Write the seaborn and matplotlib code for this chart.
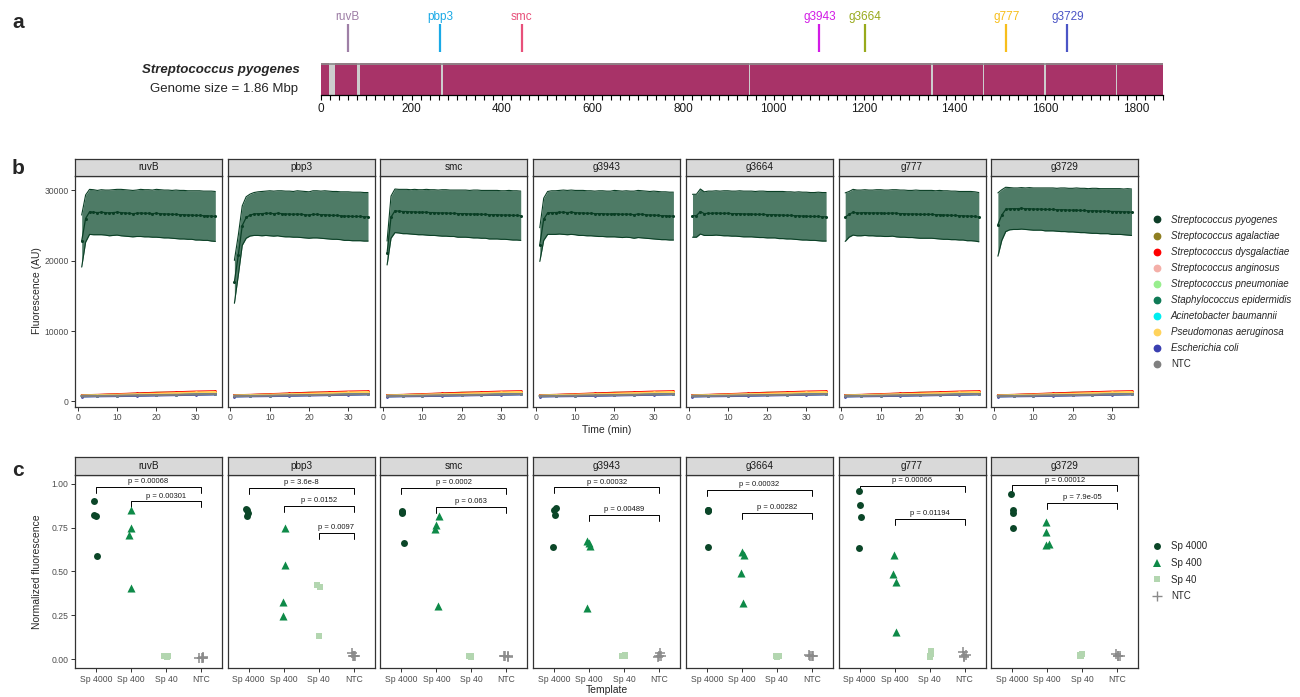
import numpy as np
import pandas as pd
import matplotlib
matplotlib.use("Agg")
import matplotlib.pyplot as plt
from matplotlib.lines import Line2D
import seaborn as sns

# ---------------------------------------------------------------- data
GENES = ["ruvB", "pbp3", "smc", "g3943", "g3664", "g777", "g3729"]
GENE_POS_KB = [59, 263, 443, 1101, 1201, 1514, 1649]
GENE_COLORS = ["#9E7FA6", "#19A9E6", "#E8507A", "#D21BE6", "#98AA1C", "#F7BE1B", "#4B55C6"]
GENOME_KB = 1860
GAP_START_KB = [18, 80, 266, 946, 1348, 1462, 1597, 1757]
GAP_WIDTH_KB = [13, 7, 3, 2, 5, 2, 5, 2]

TIME = list(range(1, 36))

# S. pyogenes fluorescence: mean and standard deviation per target gene
PYO_MEAN = [
    [22800, 26000, 26950, 26900, 26850, 26900, 26850, 26800, 26850, 26900, 26850, 26800, 26750, 26700, 26750, 26800, 26750, 26750,
     26700, 26750, 26700, 26650, 26650, 26600, 26600, 26550, 26550, 26500, 26500, 26450, 26450, 26400, 26400, 26350, 26300],
    [17000, 20800, 25000, 26150, 26500, 26650, 26700, 26700, 26750, 26750, 26700, 26750, 26700, 26650, 26650, 26600, 26650, 26600,
     26550, 26500, 26600, 26600, 26550, 26550, 26500, 26450, 26450, 26400, 26350, 26350, 26300, 26300, 26300, 26250, 26250],
    [21100, 26200, 27100, 27050, 27000, 27000, 26950, 26950, 26900, 26900, 26900, 26850, 26850, 26800, 26800, 26800, 26750, 26750,
     26700, 26700, 26700, 26650, 26650, 26650, 26600, 26600, 26550, 26550, 26550, 26500, 26500, 26500, 26450, 26450, 26400],
    [22300, 25900, 26800, 26850, 26850, 26900, 26900, 26850, 26900, 26850, 26800, 26800, 26750, 26750, 26700, 26700, 26700, 26650,
     26650, 26700, 26650, 26600, 26650, 26600, 26550, 26650, 26600, 26550, 26500, 26500, 26450, 26400, 26400, 26350, 26350],
    [26400, 26400, 27000, 26700, 26750, 26750, 26800, 26750, 26750, 26750, 26700, 26700, 26700, 26650, 26650, 26650, 26600, 26600,
     26600, 26550, 26550, 26550, 26500, 26500, 26450, 26450, 26400, 26400, 26350, 26350, 26300, 26300, 26300, 26250, 26250],
    [26200, 26600, 26900, 26800, 26800, 26850, 26800, 26800, 26800, 26800, 26750, 26750, 26800, 26750, 26700, 26700, 26650, 26650,
     26650, 26600, 26600, 26600, 26600, 26550, 26550, 26500, 26500, 26450, 26450, 26400, 26400, 26350, 26350, 26300, 26200],
    [25150, 26500, 27300, 27400, 27400, 27400, 27450, 27400, 27400, 27350, 27350, 27350, 27300, 27300, 27300, 27250, 27250, 27250,
     27200, 27200, 27200, 27150, 27150, 27100, 27100, 27100, 27050, 27050, 27050, 27000, 27000, 27000, 26950, 26950, 26900],
]
PYO_SD = [
    [3700, 3350, 3200, 3200, 3150, 3200, 3200, 3250, 3250, 3250, 3300, 3300, 3300, 3300, 3300, 3350, 3350, 3350,
     3350, 3400, 3400, 3400, 3400, 3400, 3450, 3450, 3450, 3450, 3450, 3500, 3500, 3500, 3500, 3550, 3550],
    [3050, 2850, 2800, 2950, 2980, 3050, 3100, 3150, 3150, 3200, 3200, 3200, 3250, 3250, 3250, 3250, 3300, 3300,
     3300, 3300, 3350, 3350, 3350, 3400, 3400, 3400, 3400, 3400, 3450, 3450, 3450, 3450, 3450, 3450, 3450],
    [1700, 3000, 3100, 3100, 3150, 3150, 3150, 3200, 3200, 3200, 3250, 3250, 3250, 3250, 3300, 3300, 3300, 3300,
     3350, 3350, 3350, 3350, 3400, 3400, 3400, 3400, 3450, 3450, 3450, 3450, 3450, 3500, 3500, 3500, 3500],
    [2400, 3000, 3050, 3100, 3100, 3100, 3150, 3150, 3150, 3150, 3200, 3200, 3200, 3200, 3200, 3250, 3250, 3250,
     3250, 3300, 3300, 3300, 3300, 3300, 3350, 3350, 3350, 3350, 3350, 3400, 3400, 3400, 3400, 3400, 3400],
    [3050, 3050, 3200, 3100, 3150, 3150, 3150, 3150, 3200, 3200, 3200, 3200, 3250, 3250, 3250, 3250, 3250, 3300,
     3300, 3300, 3300, 3300, 3350, 3350, 3350, 3350, 3350, 3400, 3400, 3400, 3400, 3400, 3450, 3450, 3450],
    [3450, 3250, 3250, 3250, 3250, 3250, 3250, 3250, 3300, 3300, 3300, 3300, 3300, 3350, 3350, 3350, 3350, 3350,
     3400, 3400, 3400, 3400, 3400, 3400, 3450, 3450, 3450, 3450, 3450, 3450, 3450, 3500, 3500, 3500, 3500],
    [4500, 3600, 3150, 3000, 2950, 2950, 2950, 2950, 3000, 3000, 3000, 3000, 3050, 3050, 3050, 3050, 3100, 3100,
     3100, 3100, 3150, 3150, 3150, 3150, 3200, 3200, 3200, 3200, 3200, 3250, 3250, 3250, 3250, 3300, 3300],
]

# off-target templates and no-template control (AU)
LOW_TIME = [1, 5, 10, 15, 20, 25, 30, 35]
AGALACTIAE = [850, 900, 1000, 1100, 1250, 1250, 1300, 1350]
DYSGALACTIAE = [870, 930, 1030, 1130, 1200, 1300, 1400, 1450]
ANGINOSUS = [800, 850, 900, 1000, 1050, 1100, 1150, 1200]
PNEUMONIAE = [750, 800, 850, 900, 950, 1000, 1050, 1100]
EPIDERMIDIS = [800, 850, 900, 950, 1000, 1050, 1100, 1150]
BAUMANNII = [750, 780, 820, 870, 920, 960, 1000, 1050]
AERUGINOSA = [830, 880, 960, 1020, 1100, 1180, 1280, 1350]
ECOLI = [700, 730, 760, 800, 850, 900, 950, 1000]
NTC_FLUOR = [750, 780, 820, 860, 900, 950, 1000, 1050]

SPECIES = ["Streptococcus pyogenes", "Streptococcus agalactiae", "Streptococcus dysgalactiae",
           "Streptococcus anginosus", "Streptococcus pneumoniae", "Staphylococcus epidermidis",
           "Acinetobacter baumannii", "Pseudomonas aeruginosa", "Escherichia coli", "NTC"]
SPECIES_COLORS = ["#0D3D27", "#8F7F22", "#FF0000", "#F4AFA8", "#98EE8E", "#0F7A56",
                  "#00EEF0", "#FFD35C", "#3A3FB0", "#808080"]

# normalized fluorescence per template (4 replicates), one list per gene
TEMPLATES = ["Sp 4000", "Sp 400", "Sp 40", "NTC"]
SP4000 = [[0.90, 0.82, 0.815, 0.59], [0.855, 0.85, 0.835, 0.815], [0.845, 0.84, 0.835, 0.66],
          [0.86, 0.85, 0.82, 0.637], [0.85, 0.848, 0.845, 0.637], [0.956, 0.878, 0.808, 0.631],
          [0.943, 0.848, 0.835, 0.747]]
SP400 = [[0.85, 0.75, 0.705, 0.405], [0.75, 0.535, 0.325, 0.245], [0.815, 0.765, 0.74, 0.305],
         [0.675, 0.66, 0.645, 0.29], [0.612, 0.595, 0.49, 0.318], [0.591, 0.485, 0.44, 0.154],
         [0.78, 0.723, 0.658, 0.653]]
SP40 = [[0.015, 0.018, 0.012, 0.015], [0.425, 0.42, 0.41, 0.13], [0.02, 0.015, 0.02, 0.012],
        [0.02, 0.025, 0.015, 0.02], [0.015, 0.018, 0.012, 0.015], [0.044, 0.03, 0.015, 0.01],
        [0.03, 0.025, 0.02, 0.018]]
NTC_NORM = [[0.005, 0.012, 0.008, 0.004], [0.035, 0.02, 0.015, 0.018], [0.015, 0.016, 0.014, 0.015],
            [0.036, 0.015, 0.02, 0.012], [0.02, 0.018, 0.022, 0.016], [0.04, 0.025, 0.01, 0.015],
            [0.03, 0.02, 0.018, 0.015]]
TEMPLATE_COLORS = ["#0B4628", "#0E8A48", "#B3D6B0", "#8A8A8A"]
TEMPLATE_MARKERS = ["o", "^", "s", "+"]

# pairwise comparisons: (first template, second template, bracket height, label)
BRACKETS = [
    [(0, 3, 0.983, "p = 0.00068"), (1, 3, 0.900, "p = 0.00301")],
    [(0, 3, 0.978, "p = 3.6e-8"), (1, 3, 0.872, "p = 0.0152"), (2, 3, 0.720, "p = 0.0097")],
    [(0, 3, 0.977, "p = 0.0002"), (1, 3, 0.869, "p = 0.063")],
    [(0, 3, 0.980, "p = 0.00032"), (1, 3, 0.821, "p = 0.00489")],
    [(0, 3, 0.964, "p = 0.00032"), (1, 3, 0.835, "p = 0.00282")],
    [(0, 3, 0.987, "p = 0.00066"), (1, 3, 0.800, "p = 0.01194")],
    [(0, 3, 0.991, "p = 0.00012"), (1, 3, 0.892, "p = 7.9e-05")],
]

# ---------------------------------------------------------------- style
sns.set_theme(style="white")
plt.rcParams["font.family"] = ["Liberation Sans", "DejaVu Sans"]

W, H = 1300, 697
fig = plt.figure(figsize=(W / 100, H / 100), dpi=100)


def rect(l, t, r, b):
    return [l / W, 1 - b / H, (r - l) / W, (b - t) / H]


def fxy(x, y):
    return x / W, 1 - y / H


BORDER = "#333333"
TICKLAB = "#4D4D4D"
STRIP_FILL = "#D9D9D9"
BAR_COLOR = "#A83368"
GAP_COLOR = "#CDCDCD"
RIBBON = "#4E7B66"
PYO_DARK = "#0A3F25"

PANEL_L0, PANEL_W, PANEL_STEP = 75.0, 147.0, 152.7

# ---------------------------------------------------------------- panel a
axa = fig.add_axes(rect(321, 0, 1163, 95))
axa.set_xlim(0, GENOME_KB)
axa.set_ylim(95, 0)
axa.barh(79, GENOME_KB, height=32, left=0, color=BAR_COLOR, edgecolor="none")
axa.barh([79] * len(GAP_START_KB), GAP_WIDTH_KB, height=32, left=GAP_START_KB,
         color=GAP_COLOR, edgecolor="none")
axa.hlines(63.5, 0, GENOME_KB, color="#8C8C8C", lw=1.2)
axa.vlines(GENE_POS_KB, 24, 52, colors=GENE_COLORS, lw=1.6)
for pos, name, col in zip(GENE_POS_KB, GENES, GENE_COLORS):
    axa.text(pos, 17, name, color=col, ha="center", va="center", fontsize=8.5)
for side in ["top", "left", "right"]:
    axa.spines[side].set_visible(False)
axa.spines["bottom"].set_color("black")
axa.spines["bottom"].set_linewidth(0.9)
axa.set_facecolor("none")
axa.set_xticks(range(0, 1801, 200))
axa.set_xticks(range(0, GENOME_KB + 1, 20), minor=True)
axa.set_yticks([])
axa.tick_params(axis="x", which="both", direction="out", length=3.5, width=0.8,
                color="black", bottom=True)
axa.tick_params(axis="x", which="major", labelsize=8.5, labelcolor="#1A1A1A", pad=2)

fig.text(*fxy(300, 70), "Streptococcus pyogenes", ha="right", va="center",
         fontsize=9.5, fontweight="bold", style="italic")
fig.text(*fxy(298, 89), "Genome size = 1.86 Mbp", ha="right", va="center", fontsize=9.5)

for letter, y in [("a", 22), ("b", 168), ("c", 470)]:
    fig.text(*fxy(18, y), letter, ha="center", va="center", fontsize=15, fontweight="bold")


def style_panel(ax, first):
    for s in ax.spines.values():
        s.set_color(BORDER)
        s.set_linewidth(0.9)
        s.set_visible(True)
    ax.tick_params(axis="both", direction="out", length=3, width=0.7, color=BORDER,
                   labelsize=6.2, labelcolor=TICKLAB, pad=1.5, bottom=True, left=first)
    ax.set_xlabel("")
    ax.set_ylabel("")
    ax.set_facecolor("white")


def add_strip(left, top, bottom, text):
    sax = fig.add_axes(rect(left, top, left + PANEL_W, bottom))
    sax.set_facecolor(STRIP_FILL)
    sax.set_xticks([])
    sax.set_yticks([])
    for s in sax.spines.values():
        s.set_color(BORDER)
        s.set_linewidth(0.9)
    sax.text(0.5, 0.5, text, ha="center", va="center", fontsize=7.2, color="#1A1A1A",
             transform=sax.transAxes)


# ---------------------------------------------------------------- panel b
low_series = [AGALACTIAE, DYSGALACTIAE, ANGINOSUS, PNEUMONIAE, EPIDERMIDIS,
              BAUMANNII, AERUGINOSA, ECOLI, NTC_FLUOR]
low_df = pd.DataFrame({
    "time": LOW_TIME * len(low_series),
    "fluor": [v for s in low_series for v in s],
    "species": [sp for sp in SPECIES[1:] for _ in LOW_TIME],
})
low_palette = dict(zip(SPECIES[1:], SPECIES_COLORS[1:]))

for i, gene in enumerate(GENES):
    left = PANEL_L0 + i * PANEL_STEP
    ax = fig.add_axes(rect(left, 176, left + PANEL_W, 406.7))
    mean = np.array(PYO_MEAN[i])
    sd = np.array(PYO_SD[i])
    ax.fill_between(TIME, mean - sd, mean + sd, color=RIBBON, lw=0)
    ax.plot(TIME, mean + sd, color=PYO_DARK, lw=0.8)
    ax.plot(TIME, mean - sd, color=PYO_DARK, lw=0.8)
    sns.lineplot(data=low_df, x="time", y="fluor", hue="species", hue_order=SPECIES[1:],
                 palette=low_palette, marker="o", markersize=2, markeredgewidth=0,
                 linewidth=1.5, legend=False, errorbar=None, ax=ax)
    sns.lineplot(x=TIME, y=mean, color=PYO_DARK, marker="o", markersize=2.2,
                 markeredgewidth=0, linewidth=0.9, errorbar=None, ax=ax)
    ax.set_xlim(-0.7, 36.7)
    ax.set_ylim(-750, 32050)
    ax.set_xticks([0, 10, 20, 30])
    ax.set_yticks([0, 10000, 20000, 30000] if i == 0 else [])
    style_panel(ax, i == 0)
    add_strip(left, 158.7, 176, gene)

fig.text(*fxy(37, 291), "Fluorescence (AU)", rotation=90, ha="center", va="center", fontsize=7.5)
fig.text(*fxy(606.5, 430), "Time (min)", ha="center", va="center", fontsize=7.5)

handles_b = [Line2D([], [], marker="o", ls="", color=c, markersize=4.6) for c in SPECIES_COLORS]
leg_b = fig.legend(handles_b, SPECIES, loc="center left", bbox_to_anchor=fxy(1152, 292),
                   frameon=False, prop={"size": 7, "style": "italic"}, handlelength=1.0,
                   handletextpad=0.95, labelspacing=0.62, borderpad=0, borderaxespad=0)
leg_b.get_texts()[-1].set_style("normal")

# ---------------------------------------------------------------- panel c
np.random.seed(11)
template_vals = [SP4000, SP400, SP40, NTC_NORM]
template_sizes = [5.0, 5.8, 5.0, 7.0]
for i, gene in enumerate(GENES):
    left = PANEL_L0 + i * PANEL_STEP
    ax = fig.add_axes(rect(left, 475, left + PANEL_W, 668.3))
    for t, (tname, vals) in enumerate(zip(TEMPLATES, template_vals)):
        sub = pd.DataFrame({"template": [tname] * len(vals[i]), "value": vals[i]})
        kws = dict(linewidth=0)
        if TEMPLATE_MARKERS[t] == "+":
            kws = dict(linewidth=1.1, edgecolor=TEMPLATE_COLORS[t])
        sns.stripplot(data=sub, x="template", y="value", order=TEMPLATES,
                      color=TEMPLATE_COLORS[t], marker=TEMPLATE_MARKERS[t],
                      size=template_sizes[t], jitter=0.07, ax=ax, **kws)
    for a, b, yb, lab in BRACKETS[i]:
        ax.plot([a, a, b, b], [yb - 0.035, yb, yb, yb - 0.035], color="black", lw=0.7)
        ax.text((a + b) / 2, yb + 0.01, lab, ha="center", va="bottom", fontsize=5.5,
                color="#1A1A1A")
    ax.set_xlim(-0.6, 3.6)
    ax.set_ylim(-0.053, 1.05)
    ax.set_xticks(range(4))
    ax.set_xticklabels(TEMPLATES)
    if i == 0:
        ax.set_yticks([0, 0.25, 0.5, 0.75, 1.0])
        ax.set_yticklabels(["0.00", "0.25", "0.50", "0.75", "1.00"])
    else:
        ax.set_yticks([])
    style_panel(ax, i == 0)
    add_strip(left, 456.7, 475, gene)

fig.text(*fxy(37, 571.5), "Normalized fluorescence", rotation=90, ha="center", va="center",
         fontsize=7.5)
fig.text(*fxy(606.5, 690), "Template", ha="center", va="center", fontsize=7.5)

handles_c = [Line2D([], [], marker=m, ls="", color=c, markersize=s,
                    markeredgewidth=(1.0 if m == "+" else 0))
             for m, c, s in zip(TEMPLATE_MARKERS, TEMPLATE_COLORS, template_sizes)]
fig.legend(handles_c, TEMPLATES, loc="center left", bbox_to_anchor=fxy(1152, 571.3),
           frameon=False, prop={"size": 7}, handlelength=1.0, handletextpad=0.95,
           labelspacing=0.68, borderpad=0, borderaxespad=0)

fig.savefig("out.png", dpi=100)
